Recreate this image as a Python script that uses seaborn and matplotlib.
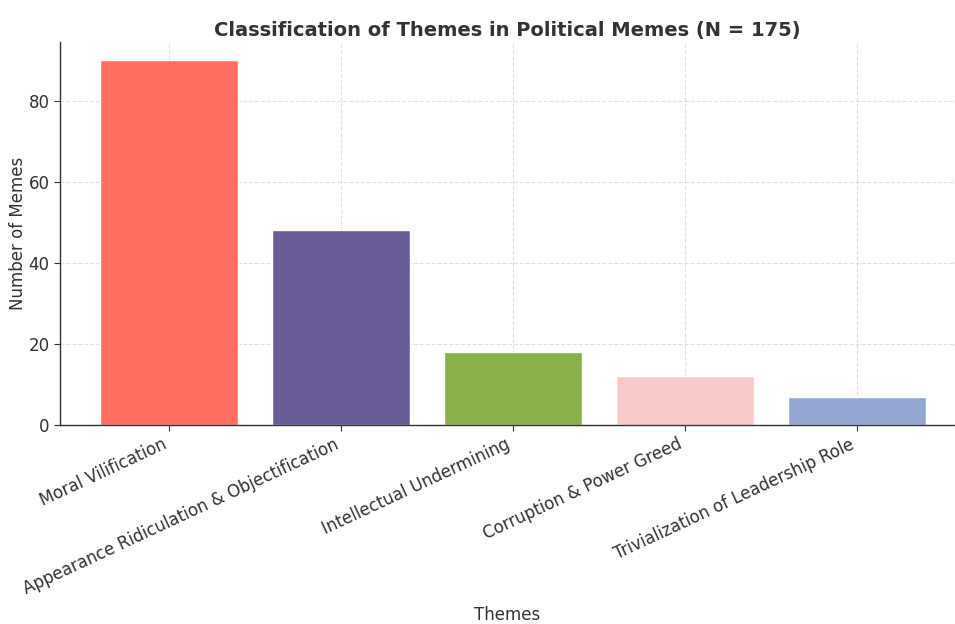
import matplotlib
matplotlib.use("Agg")
import matplotlib.pyplot as plt
import seaborn as sns
import pandas as pd

themes = ["Moral Vilification", "Appearance Ridiculation & Objectification",
          "Intellectual Undermining", "Corruption & Power Greed",
          "Trivialization of Leadership Role"]
counts = [90, 48, 18, 12, 7]
colors = ["#FF6F61", "#6B5B95", "#88B04B", "#F7CAC9", "#92A8D1"]

df = pd.DataFrame({"Themes": themes, "Count": counts})

sns.set_style("whitegrid")
plt.rcParams['font.family'] = 'sans-serif'
plt.rcParams['font.sans-serif'] = ['DejaVu Sans']

fig = plt.figure(figsize=(9.55, 6.24), dpi=100)
ax = fig.add_axes([0.063, 0.319, 0.937, 0.614])
sns.barplot(data=df, x="Themes", y="Count", hue="Themes", palette=colors,
            legend=False, ax=ax, width=0.8, saturation=1)

ax.set_xlim(-0.634, 4.57)
ax.set_ylim(0, 94.5)
ax.set_yticks([0, 20, 40, 60, 80])
ax.grid(True, color="#d9d9d9", linestyle="--", linewidth=0.8, alpha=0.8)
ax.set_axisbelow(True)
for s in ["top", "right"]:
    ax.spines[s].set_visible(False)
for s in ["left", "bottom"]:
    ax.spines[s].set_color("#333333")
    ax.spines[s].set_linewidth(1.0)
ax.tick_params(axis="both", length=4, width=0.8, color="#333333",
               labelcolor="#333333", labelsize=12, bottom=True, left=True)
plt.setp(ax.get_xticklabels(), rotation=25, ha="right", rotation_mode="default")

ax.set_title("Classification of Themes in Political Memes (N = 175)",
             fontsize=14, fontweight="bold", color="#333333", pad=4)
ax.set_xlabel("Themes", fontsize=12, color="#333333", labelpad=6)
ax.set_ylabel("Number of Memes", fontsize=12, color="#333333", labelpad=1)

fig.savefig("out.png", dpi=100)
